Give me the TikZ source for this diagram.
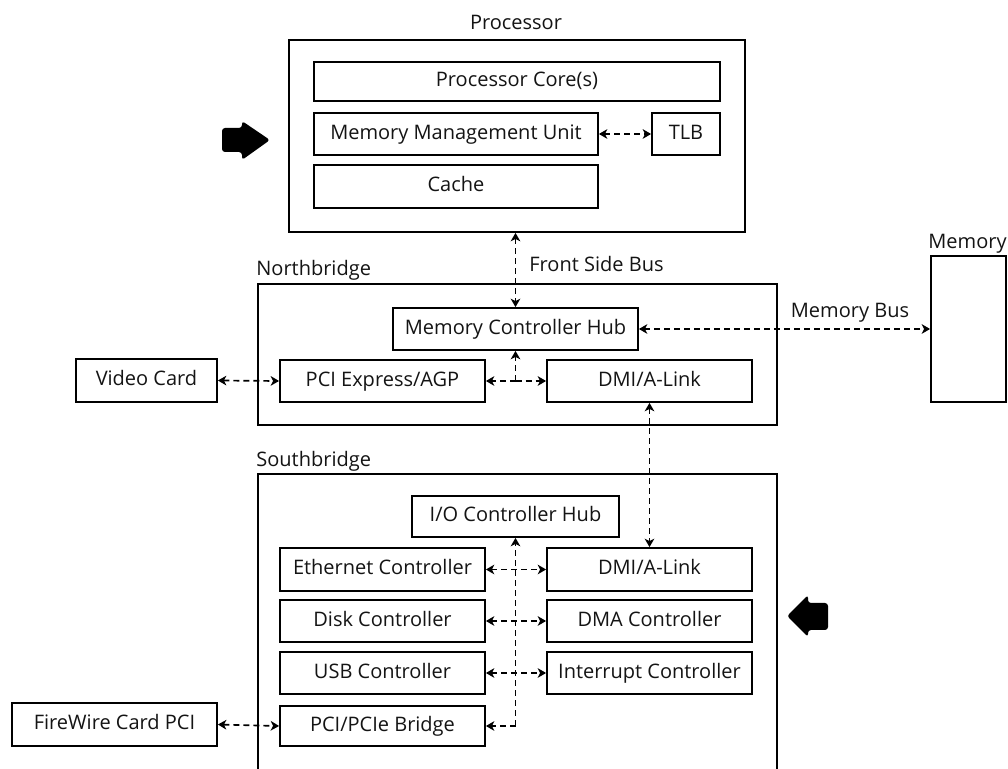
\documentclass[tikz,border=0pt]{standalone}
\usepackage{fontspec}
\setmainfont{Open Sans}
\usetikzlibrary{arrows.meta}

\tikzset{
  blk/.style={draw=black, line width=0.9pt, fill=white, inner sep=0pt,
    text height=7.4pt, text depth=2.2pt,
    font=\fontsize{10}{12}\selectfont, text=black!92},
  title/.style={inner sep=0pt, font=\fontsize{10}{12}\selectfont, text=black!92},
  bus/.style={draw=black, line width=0.85pt, dash pattern=on 3pt off 2pt},
  tip/.style={-{Stealth[length=4.2pt,width=4.8pt,inset=1.2pt]}},
  dbl/.style={bus, {Stealth[length=4.2pt,width=4.8pt,inset=1.2pt]}-{Stealth[length=4.2pt,width=4.8pt,inset=1.2pt]}},
  one/.style={bus, tip}
}

% \blockbox{name}{x1}{y1}{x2}{y2}{text}: a framed box between two corners
\newcommand\blockbox[6]{%
  \pgfmathsetmacro\bbw{(#4-#2)*0.5}%
  \pgfmathsetmacro\bbh{(#5-#3)*0.5}%
  \node[blk, minimum width=\bbw pt, minimum height=\bbh pt] (#1)
    at ({(#2+#4)/2},{(#3+#5)/2}) {#6};}

\begin{document}
\begin{tikzpicture}[x=0.5pt, y=-0.5pt]
\useasboundingbox (0,0) rectangle (1008,769);
\fill[white] (0,0) rectangle (1008,769);

% ---------- Processor ----------
\node[title] (proct) at (516,22) {Processor};
\blockbox{proc}{289}{40}{745}{232}{}
\blockbox{core}{314}{62}{720}{101}{Processor Core(s)}
\blockbox{mmu}{314}{113}{598}{155}{Memory Management Unit}
\blockbox{tlb}{652}{113}{720}{155}{TLB}
\blockbox{cache}{314}{165}{598}{208}{Cache}
\draw[dbl] (mmu.east) -- (tlb.west);

% ---------- Northbridge ----------
\node[title, anchor=west] (nbt) at (256,270) {Northbridge};
\blockbox{nb}{258}{284}{777}{425}{}
\blockbox{mch}{393}{308}{638}{350}{Memory Controller Hub}
\blockbox{pci}{280}{360}{485}{402}{PCI Express/AGP}
\blockbox{nbdmi}{547}{360}{752}{402}{DMI/A-Link}
\coordinate (nbj) at (mch.south |- pci.east);
\draw[one] (nbj) -- (mch.south);
\draw[one] (nbj) -- (pci.east);
\draw[one] (nbj) -- (nbdmi.west);

% front side bus
\draw[dbl] (mch.north |- proc.south) -- (mch.north);
\node[title, anchor=west] (fsb) at (529,264) {Front Side Bus};

% ---------- Memory ----------
\node[title, anchor=west] (memt) at (928,244) {Memory};
\blockbox{mem}{931}{256}{1006}{402}{}
\draw[dbl] (mch.east) -- (mch.east -| mem.west);
\node[title] (membus) at (850,313) {Memory Bus};

% ---------- Video card ----------
\blockbox{video}{76}{359}{217}{402}{Video Card}
\draw[dbl] (video.east) -- (pci.west);

% ---------- Southbridge ----------
\node[title, anchor=west] (sbt) at (256,461) {Southbridge};
\begin{scope}
  \clip (0,0) rectangle (1008,769);
  \draw[line width=0.9pt] (258,800) -- (258,474) -- (777,474) -- (777,800);
\end{scope}
\blockbox{ioh}{412}{496}{619}{537}{I/O Controller Hub}
\blockbox{eth}{280}{548}{485}{591}{Ethernet Controller}
\blockbox{sbdmi}{547}{548}{752}{591}{DMI/A-Link}
\blockbox{disk}{280}{600}{485}{642}{Disk Controller}
\blockbox{dma}{547}{600}{752}{642}{DMA Controller}
\blockbox{usb}{280}{652}{485}{694}{USB Controller}
\blockbox{intr}{547}{652}{752}{694}{Interrupt Controller}
\blockbox{bridge}{280}{706}{485}{746}{PCI/PCIe Bridge}
\blockbox{fw}{12}{703}{217}{746}{FireWire Card PCI}

\coordinate (sbj) at (ioh.south |- bridge.east);
\draw[one] (sbj) -- (ioh.south);
\draw[one] (sbj) -- (bridge.east);
\draw[dbl] (eth.east) -- (sbdmi.west);
\draw[dbl] (disk.east) -- (dma.west);
\draw[dbl] (usb.east) -- (intr.west);
\draw[dbl] (fw.east) -- (bridge.west);

% link between the two bridges
\draw[dbl] (nbdmi.south) -- (sbdmi.north);

% ---------- block arrows ----------
\fill[black, rounded corners=1.5pt] (222,128) -- (242,128) -- (242,121) -- (270,140)
  -- (242,160) -- (242,152) -- (222,152) -- cycle;
\fill[black, rounded corners=1.5pt] (828,603) -- (808,603) -- (808,595) -- (787,616)
  -- (808,637) -- (808,630) -- (828,630) -- cycle;
\end{tikzpicture}
\end{document}
